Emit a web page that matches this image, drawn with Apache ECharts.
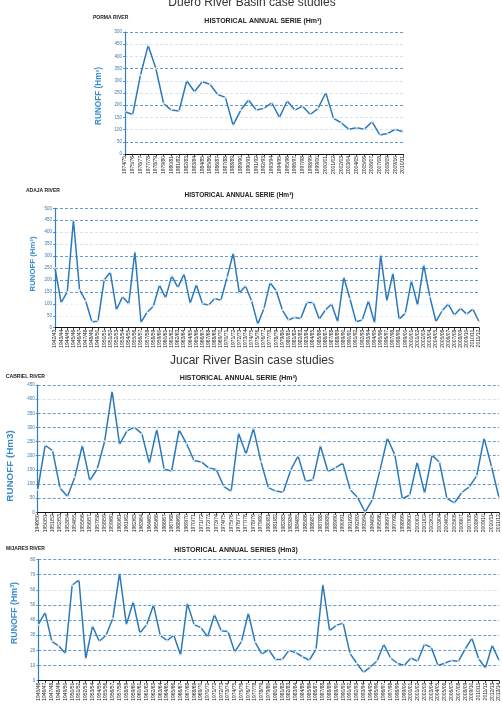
<!DOCTYPE html>
<html><head><meta charset="utf-8">
<script src="https://cdn.jsdelivr.net/npm/echarts/dist/echarts.min.js"></script>
<style>html,body{margin:0;padding:0;background:#fff}#c{width:502px;height:710px}</style>
</head><body><div id="c"></div>
<script>
// ---------- DATA ----------
const pormaYears = ["1974/75","1975/76","1976/77","1977/78","1978/79","1979/80","1980/81","1981/82","1982/83","1983/84","1984/85","1985/86","1986/87","1987/88","1988/89","1989/90","1990/91","1991/92","1992/93","1993/94","1994/95","1995/96","1996/97","1997/98","1998/99","1999/00","2000/01","2001/02","2002/03","2003/04","2004/05","2005/06","2006/07","2007/08","2008/09","2009/10","2010/11"];
const pormaRunoff = [173,162,323,445,350,207,180,176,300,255,296,286,244,232,118,180,221,180,187,210,150,217,180,196,162,187,251,146,128,101,108,102,132,78,84,101,91];

const adajaYears = ["1942/43","1943/44","1944/45","1945/46","1946/47","1947/48","1948/49","1949/50","1950/51","1951/52","1952/53","1953/54","1954/55","1955/56","1956/57","1957/58","1958/59","1959/60","1960/61","1961/62","1962/63","1963/64","1964/65","1965/66","1966/67","1967/68","1968/69","1969/70","1970/71","1971/72","1972/73","1973/74","1974/75","1975/76","1976/77","1977/78","1978/79","1979/80","1980/81","1981/82","1982/83","1983/84","1984/85","1985/86","1986/87","1987/88","1988/89","1989/90","1990/91","1991/92","1992/93","1993/94","1994/95","1995/96","1996/97","1997/98","1998/99","1999/00","2000/01","2001/02","2002/03","2003/04","2004/05","2005/06","2006/07","2007/08","2008/09","2009/10","2010/11","2011/12"];
const adajaRunoff = [250,105,150,450,158,112,25,27,200,232,75,130,100,318,22,65,90,178,125,217,168,225,102,180,100,95,122,115,210,312,145,175,112,15,80,188,155,74,32,43,39,106,106,36,74,99,25,211,120,25,32,112,21,304,112,228,36,60,196,95,263,130,25,71,99,53,81,57,78,25];

const cabrielYears = ["1949/50","1950/51","1951/52","1952/53","1953/54","1954/55","1955/56","1956/57","1957/58","1958/59","1959/60","1960/61","1961/62","1962/63","1963/64","1964/65","1965/66","1966/67","1967/68","1968/69","1969/70","1970/71","1971/72","1972/73","1973/74","1974/75","1975/76","1976/77","1977/78","1978/79","1979/80","1980/81","1981/82","1982/83","1983/84","1984/85","1985/86","1986/87","1987/88","1988/89","1989/90","1990/91","1991/92","1992/93","1993/94","1994/95","1995/96","1996/97","1997/98","1998/99","1999/00","2000/01","2001/02","2002/03","2003/04","2004/05","2005/06","2006/07","2007/08","2008/09","2009/10","2010/11","2011/12"];
const cabrielRunoff = [80,237,218,86,56,125,236,112,153,251,428,240,288,300,278,173,293,152,146,291,243,183,178,157,151,92,74,279,206,296,179,87,75,71,149,199,110,115,235,144,157,174,80,52,1,45,148,262,203,48,61,177,68,202,177,49,33,70,90,129,262,161,52];

const mijaresYears = ["1945/46","1946/47","1947/48","1948/49","1949/50","1950/51","1951/52","1952/53","1953/54","1954/55","1955/56","1956/57","1957/58","1958/59","1959/60","1960/61","1961/62","1962/63","1963/64","1964/65","1965/66","1966/67","1967/68","1968/69","1969/70","1970/71","1971/72","1972/73","1973/74","1974/75","1975/76","1976/77","1977/78","1978/79","1979/80","1980/81","1981/82","1982/83","1983/84","1984/85","1985/86","1986/87","1987/88","1988/89","1989/90","1990/91","1991/92","1992/93","1993/94","1994/95","1995/96","1996/97","1997/98","1998/99","1999/00","2000/01","2001/02","2002/03","2003/04","2004/05","2005/06","2006/07","2007/08","2008/09","2009/10","2010/11","2011/12","2012/13","2013/14"];
const mijaresRunoff = [37,45,26,23,18,63,66.5,14.5,36,26,30,41,71,37,52,31.5,37,50,30,26.5,30,17,51,37,35,29,43.5,33,32.5,19,26,44.5,25.5,17.5,20.5,14,14,20,18.5,15.8,13.5,20.8,63.5,33,36.5,38,18,11.5,5.5,9,13,24,15,11.5,10,15,12.8,24,22,10,11.5,13.4,12.8,20.8,28,14.5,8.4,23.4,13.4];

const yMaxes = [500, 500, 450, 80];
const yIntervals = [50, 50, 50, 10];

// ---------- LAYOUT / STYLE ----------
const D = '#3a84c4', L = '#c9dcef', N = '#e6eef7';
const panels = [
  {cats: pormaYears, vals: pormaRunoff, grid: {left:125, top:32, width:278, height:122},
   split: [L,D,L,L,D,L,L,D,L,L,D], river:'PORMA RIVER', rx:93, ry:17.3,
   sub:'HISTORICAL ANNUAL SERIE (Hm³)', sx:263, sy:20.7, ss:7,
   yname:'RUNOFF (Hm³)', nx:99, ny:96, ns:8.2},
  {cats: adajaYears, vals: adajaRunoff, grid: {left:55, top:208.3, width:424, height:119.4},
   split: [L,N,N,D,D,D,D,L,L,D,D], river:'ADAJA RIVER', rx:26, ry:191,
   sub:'HISTORICAL ANNUAL SERIE (Hm³)', sx:239, sy:195, ss:6.5,
   yname:'RUNOFF (Hm³)', nx:33, ny:264, ns:7.8},
  {cats: cabrielYears, vals: cabrielRunoff, grid: {left:37.7, top:385, width:461.3, height:127.3},
   split: [L,D,D,D,D,D,D,D,L,D], river:'CABRIEL RIVER', rx:6, ry:376.7,
   sub:'HISTORICAL ANNUAL SERIE (Hm³)', sx:238.5, sy:377.7, ss:7,
   yname:'RUNOFF (Hm3)', nx:10, ny:466, ns:9.8},
  {cats: mijaresYears, vals: mijaresRunoff, grid: {left:38.3, top:559.5, width:460.7, height:121.2},
   split: [L,D,D,D,D,D,L,D,D], river:'MIJARES RIVER', rx:6, ry:548.3,
   sub:'HISTORICAL ANNUAL SERIES (Hm3)', sx:236, sy:550, ss:7,
   yname:'RUNOFF (Hm³)', nx:15, ny:613, ns:8.8}
];

const LINE = '#2b79ba';
const FONT = '"Liberation Sans", Arial, sans-serif';

const grids = [], xAxes = [], yAxes = [], series = [], graphics = [];
panels.forEach((p, i) => {
  grids.push(Object.assign({outerBoundsMode:'none', containLabel:false}, p.grid));
  xAxes.push({
    type:'category', gridIndex:i, data:p.cats, boundaryGap:false,
    axisLine:{lineStyle:{color:'#111', width:1}},
    axisTick:{show:true, length:2.5, lineStyle:{color:'#111', width:0.8}},
    axisLabel:{rotate:90, fontSize:5, color:'#222', interval:0, margin:2, fontFamily:FONT},
    splitLine:{show:false}
  });
  yAxes.push({
    type:'value', gridIndex:i, min:0, max:yMaxes[i], interval:yIntervals[i],
    axisLine:{show:true, lineStyle:{color:'#2f7fc1', width:1.2}},
    axisTick:{show:true, length:2, lineStyle:{color:'#2f7fc1', width:0.8}},
    axisLabel:{fontSize:4.5, color:'#3b78b5', margin:3, fontFamily:FONT},
    splitLine:{show:true, lineStyle:{color:p.split, type:[3,2], width:0.8}}
  });
  series.push({
    type:'line', xAxisIndex:i, yAxisIndex:i, data:p.vals,
    lineStyle:{color:LINE, width:1.5},
    symbol:'circle', symbolSize:2, showSymbol:true,
    itemStyle:{color:'#dce9f6', borderWidth:0},
    animation:false, silent:true
  });
  graphics.push({type:'text', x:p.rx, y:p.ry, silent:true,
    style:{text:p.river, font:'bold 5px '+FONT, fill:'#222', textAlign:'left', textVerticalAlign:'middle'}});
  graphics.push({type:'text', x:p.sx, y:p.sy, silent:true,
    style:{text:p.sub, font:'bold '+p.ss+'px '+FONT, fill:'#222', textAlign:'center', textVerticalAlign:'middle'}});
  graphics.push({type:'text', x:p.nx, y:p.ny, rotation:Math.PI/2, silent:true,
    style:{text:p.yname, font:'bold '+p.ns+'px '+FONT, fill:'#3a8ccd', textAlign:'center', textVerticalAlign:'middle'}});
});
graphics.push({type:'text', x:252, y:3, silent:true,
  style:{text:'Duero River Basin case studies', font:'12px '+FONT, fill:'#333', textAlign:'center', textVerticalAlign:'middle'}});
graphics.push({type:'text', x:252, y:360.5, silent:true,
  style:{text:'Jucar River Basin case studies', font:'12px '+FONT, fill:'#333', textAlign:'center', textVerticalAlign:'middle'}});

const chart = echarts.init(document.getElementById('c'), null, {renderer:'canvas'});
chart.setOption({
  backgroundColor:'#ffffff',
  animation:false,
  grid:grids, xAxis:xAxes, yAxis:yAxes, series:series, graphic:graphics
});
</script></body></html>
